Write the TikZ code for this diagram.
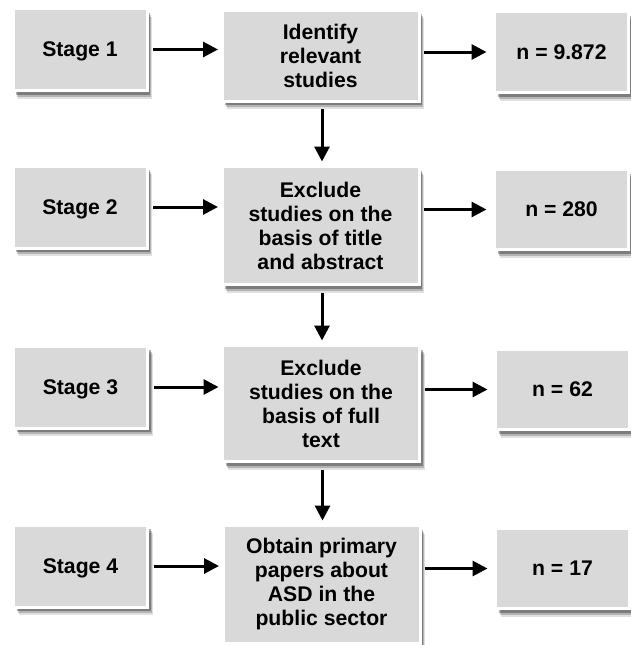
\documentclass[tikz,border=0pt]{standalone}
\usepackage{fontspec}
\setmainfont{Liberation Sans}
\usetikzlibrary{arrows.meta}
\definecolor{boxgray}{HTML}{D9D9D9}
\begin{document}
\begin{tikzpicture}[x=1pt,y=-1pt,
  box/.style={draw=white, line width=3pt, fill=boxgray, inner sep=0pt, align=center,
    font=\bfseries\fontsize{21.2}{24}\selectfont,
    preaction={fill=black, opacity=0.12, transform canvas={xshift=5pt,yshift=-8pt}},
    preaction={fill=black, opacity=0.20, transform canvas={xshift=4pt,yshift=-6pt}},
    preaction={fill=black, opacity=0.30, transform canvas={xshift=3pt,yshift=-4pt}}},
  stagebox/.style={box, minimum width=134pt, minimum height=82pt, text depth=0pt},
  midbox/.style={box, minimum width=197pt, minimum height=118pt},
  countbox/.style={box, minimum width=134pt, minimum height=80pt},
  arr/.style={line width=3pt, -{Triangle[length=15pt,width=15pt]}}
]
\useasboundingbox[fill=white] (0,0) rectangle (631,645);

\node[stagebox] (s1) at (80,49.5) {Stage 1};
\node[stagebox] (s2) at (80,207) {Stage 2};
\node[stagebox] (s3) at (80.5,387) {Stage 3};
\node[stagebox] (s4) at (80.5,566) {Stage 4};

\node[midbox, minimum height=91pt] (c1) at (320.5,55.5) {Identify\\relevant\\studies};
\node[midbox] (c2) at (320.5,225.5) {Exclude\\studies on the\\basis of title\\and abstract};
\node[midbox, minimum height=116pt] (c3) at (321,403.5) {Exclude\\studies on the\\basis of full\\text};
\node[midbox] (c4) at (321.5,584.5) {Obtain primary\\papers about\\ASD in the\\public sector};

\node[countbox, minimum height=81pt] (r1) at (561.5,52) {n = 9.872};
\node[countbox] (r2) at (561.5,209.5) {n = 280};
\node[countbox] (r3) at (562.5,389.5) {n = 62};
\node[countbox] (r4) at (562.5,568.5) {n = 17};

\foreach \i in {1,2,3,4}{
  \draw[arr, shorten <=4.5pt, shorten >=2.5pt] (s\i.east) -- (s\i.east -| c\i.west);
  \draw[arr, shorten <=3.5pt, shorten >=6.5pt] (c\i.east |- r\i.west) -- (r\i.west);
}
\draw[arr, shorten <=6.5pt, shorten >=3.5pt] ([xshift=1.5pt]c1.south) -- ([xshift=1.5pt]c1.south |- c2.north);
\draw[arr, shorten <=6.5pt, shorten >=3.5pt] ([xshift=1.5pt]c2.south) -- ([xshift=1.5pt]c2.south |- c3.north);
\draw[arr, shorten <=6.5pt, shorten >=3.5pt] ([xshift=1.5pt]c3.south) -- ([xshift=1.5pt]c3.south |- c4.north);
\end{tikzpicture}
\end{document}
